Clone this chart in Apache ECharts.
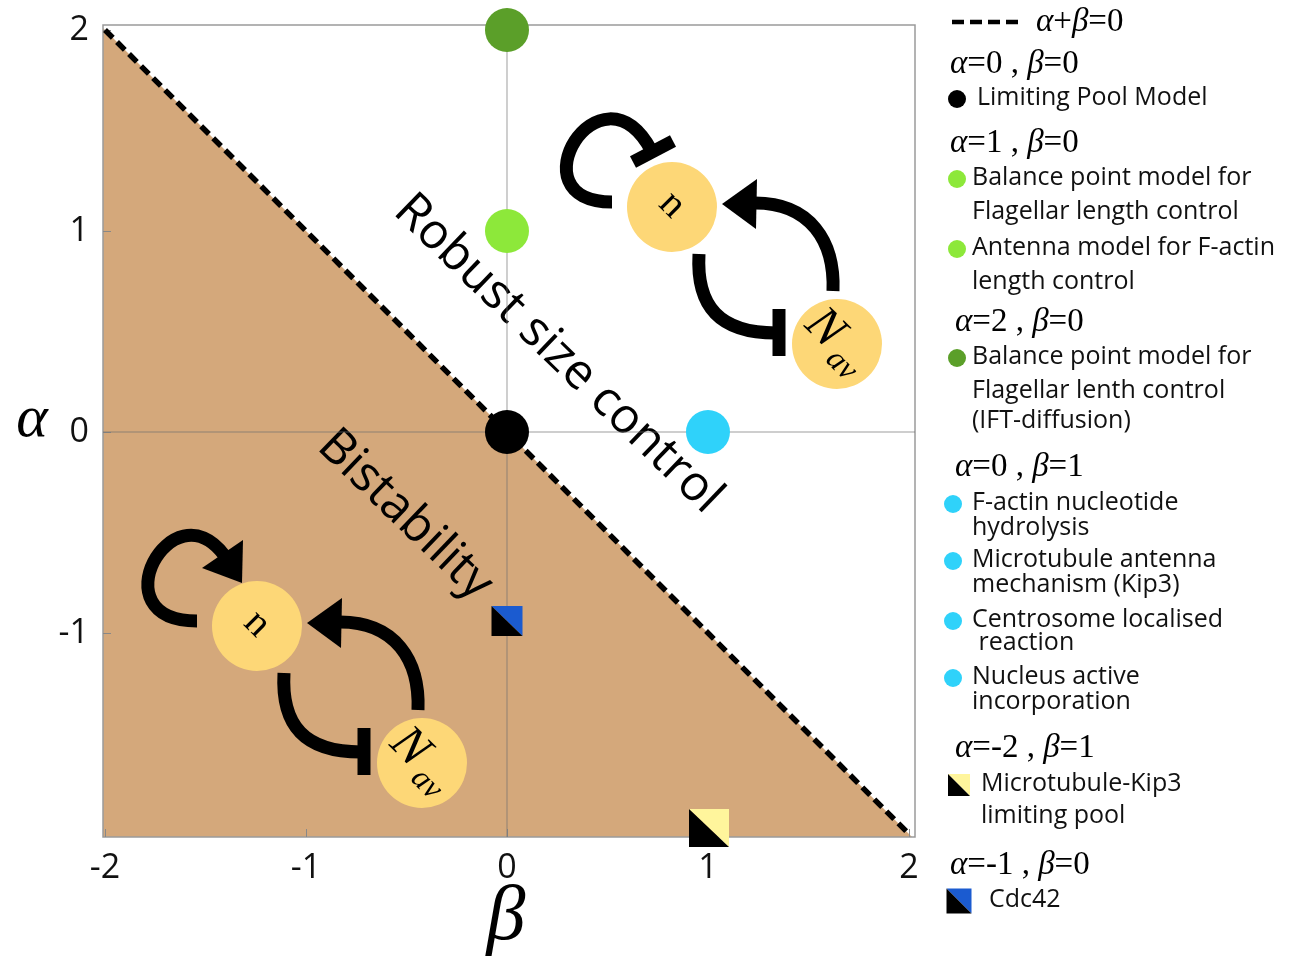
<!DOCTYPE html>
<html>
<head>
<meta charset="utf-8">
<script src="https://cdn.jsdelivr.net/npm/echarts@6/dist/echarts.min.js"></script>
<style>
  html, body { margin: 0; padding: 0; background: #fff; }
  #main { width: 1303px; height: 961px; }
</style>
</head>
<body>
<div id="main"></div>
<script type="text/javascript">
  // model positions in the (beta, alpha) plane
  var circleBeta   = [0, 0, 0, 1];
  var circleAlpha  = [0, 1, 2, 0];
  var circleColors = ['#000000', '#8de83a', '#5b9f29', '#2fd2fa'];

  // split squares (black lower-left half + coloured half)
  var squareBeta   = [1, 0];
  var squareAlpha  = [-2, -1];
  var squareColors = ['#fff59c', '#1b5bd0'];

  // boundary alpha + beta = 0
  var lineBeta  = [-2, 2];
  var lineAlpha = [2, -2];

  // bistable region below the boundary (clipped by the grid)
  var regionBeta  = [-2.2, 2.2, -2.2];
  var regionAlpha = [2.2, -2.2, -2.2];

  var betaTicks  = [-2, -1, 0, 1, 2];
  var alphaTicks = [-1, 0, 1, 2];

  // legend text
  var legendHeads = [['0', '0'], ['1', '0'], ['2', '0'], ['0', '1'], ['-2', '1'], ['-1', '0']];
  var legendEntries = [
    [{ mark: 'c0', lines: ['Limiting Pool Model'] }],
    [{ mark: 'c1', lines: ['Balance point model for', 'Flagellar length control'] },
     { mark: 'c1', lines: ['Antenna model for F-actin', 'length control'] }],
    [{ mark: 'c2', lines: ['Balance point model for', 'Flagellar lenth control', '(IFT-diffusion)'] }],
    [{ mark: 'c3', lines: ['F-actin nucleotide', 'hydrolysis'] },
     { mark: 'c3', lines: ['Microtubule antenna', 'mechanism (Kip3)'] },
     { mark: 'c3', lines: ['Centrosome localised', ' reaction'] },
     { mark: 'c3', lines: ['Nucleus active', 'incorporation'] }],
    [{ mark: 's0', lines: ['Microtubule-Kip3', 'limiting pool'] }],
    [{ mark: 's1', lines: ['Cdc42'] }]
  ];

  // legend layout (pixels)
  var headX = [950, 950, 955, 955, 955, 950];
  var headY = [64, 143, 322, 467, 748, 865];
  var textX = [977, 972, 972, 972, 981, 989];
  var lineY = [[[98]], [[178, 212], [248, 282]], [[357, 391, 421]],
               [[503, 528], [560, 585], [620, 643], [677, 702]], [[784, 816]], [[900]]];

  var SANS = '"Open Sans", "Noto Sans", sans-serif';
  var SERIF = '"Liberation Serif", "DejaVu Serif", serif';
  var TAN = '#d4a87b';
  var BALL = '#fdd777';

  var myChart = echarts.init(document.getElementById('main'));

  function motif(cx, cy, selfActivates) {
    var st = { fill: null, stroke: '#000', lineWidth: 13, lineCap: 'butt' };
    var ch = [
      selfActivates
        ? { type: 'bezierCurve', shape: { x1: -60, y1: -5, cpx1: -160, cpy1: -5, cpx2: -85, cpy2: -140, x2: -33, y2: -71 }, style: st }
        : { type: 'bezierCurve', shape: { x1: -60, y1: -5, cpx1: -160, cpy1: -5, cpx2: -72, cpy2: -150, x2: -21, y2: -57 }, style: st },
      selfActivates
        ? { type: 'polygon', shape: { points: [[-15, -43], [-55, -58], [-14, -86]] }, style: { fill: '#000' } }
        : { type: 'line', shape: { x1: -39, y1: -45, x2: 1, y2: -66 }, style: st },
      // activation N_av -> n
      { type: 'bezierCurve', shape: { x1: 161, y1: 84, cpx1: 163, cpy1: 34, cpx2: 138, cpy2: -4, x2: 83, y2: -4 }, style: st },
      { type: 'polygon', shape: { points: [[50, -3], [85, -28], [84, 22]] }, style: { fill: '#000' } },
      // inhibition n -> N_av
      { type: 'bezierCurve', shape: { x1: 27, y1: 47, cpx1: 24, cpy1: 100, cpx2: 48, cpy2: 126, x2: 104, y2: 126 }, style: st },
      { type: 'line', shape: { x1: 107, y1: 102, x2: 107, y2: 149 }, style: st },
      { type: 'circle', shape: { cx: 0, cy: 0, r: 45 }, style: { fill: BALL } },
      { type: 'circle', shape: { cx: 165, cy: 137, r: 45 }, style: { fill: BALL } },
      { type: 'text', x: 0, y: -2, rotation: -Math.PI / 4,
        style: { text: 'n', font: '40px ' + SERIF, fill: '#000', textAlign: 'center', textVerticalAlign: 'middle' } },
      { type: 'group', x: 165, y: 137, rotation: -Math.PI / 4, children: [
        { type: 'text', x: -20, y: -2, style: { text: 'N', font: 'italic 50px ' + SERIF, fill: '#000', textAlign: 'center', textVerticalAlign: 'middle' } },
        { type: 'text', x: 18, y: 12, style: { text: 'av', font: 'italic 32px ' + SERIF, fill: '#000', textAlign: 'center', textVerticalAlign: 'middle' } }
      ] }
    ];
    return { type: 'group', x: cx, y: cy, children: ch };
  }

  function legendGraphics() {
    var g = [];
    // dashed line sample
    g.push({ type: 'line', shape: { x1: 952, y1: 22, x2: 1022, y2: 22 },
             style: { stroke: '#000', lineWidth: 4.5, lineDash: [12, 6] } });
    g.push({ type: 'text', x: 1036, y: 22, style: {
      text: '{i|α}{n|+}{i|β}{n|=0}', textVerticalAlign: 'middle',
      rich: { i: { font: 'italic 33px ' + SERIF, fill: '#000' }, n: { font: '33px ' + SERIF, fill: '#000' } } } });
    legendHeads.forEach(function (h, gi) {
      g.push({ type: 'text', x: headX[gi], y: headY[gi], style: {
        text: '{i|α}{n|=' + h[0] + ' , }{i|β}{n|=' + h[1] + '}', textVerticalAlign: 'middle',
        rich: { i: { font: 'italic 33px ' + SERIF, fill: '#000' }, n: { font: '33px ' + SERIF, fill: '#000' } } } });
      legendEntries[gi].forEach(function (e, ei) {
        var ys = lineY[gi][ei];
        var kind = e.mark.charAt(0), idx = +e.mark.charAt(1);
        if (kind === 'c') {
          g.push({ type: 'circle', shape: { cx: gi === 3 ? 953 : 957, cy: ys[0] + 1, r: 9 }, style: { fill: circleColors[idx] } });
        } else {
          var w = idx === 0 ? 22 : 25, x0 = 959 - w / 2, y0 = ys[0] + 1 - w / 2;
          g.push({ type: 'polygon', shape: { points: [[x0, y0], [x0 + w, y0], [x0 + w, y0 + w]] }, style: { fill: squareColors[idx] } });
          g.push({ type: 'polygon', shape: { points: [[x0, y0], [x0, y0 + w], [x0 + w, y0 + w]] }, style: { fill: '#000' } });
        }
        e.lines.forEach(function (t, li) {
          g.push({ type: 'text', x: textX[gi], y: ys[li], style: {
            text: t, font: '25px ' + SANS, fill: '#111', textVerticalAlign: 'middle' } });
        });
      });
    });
    return g;
  }

  var graphics = [
    motif(672, 207, false),
    motif(257, 626, true),
    { type: 'text', x: 558, y: 354, rotation: -0.768, style: {
      text: 'Robust size control', font: '49px ' + SANS, fill: '#000', textAlign: 'center', textVerticalAlign: 'middle' } },
    { type: 'text', x: 405, y: 515, rotation: -0.768, style: {
      text: 'Bistability', font: '49px ' + SANS, fill: '#000', textAlign: 'center', textVerticalAlign: 'middle' } },
    { type: 'text', x: 32, y: 420, style: {
      text: 'α', font: 'italic 60px ' + SERIF, fill: '#000', textAlign: 'center', textVerticalAlign: 'middle' } },
    { type: 'text', x: 506, y: 918, style: {
      text: 'β', font: 'italic 78px ' + SERIF, fill: '#000', textAlign: 'center', textVerticalAlign: 'middle' } }
  ].concat(legendGraphics());

  var crossStyle = { color: 'rgba(110,110,110,0.45)', width: 1.5, type: 'solid' };

  var option = {
    animation: false,
    grid: { left: 103, top: 25, width: 812, height: 812, show: true, borderColor: '#9a9a9a', borderWidth: 1.5, backgroundColor: 'transparent' },
    xAxis: {
      type: 'value', min: -2.01, max: 2.03,
      axisLine: { show: false, onZero: false },
      axisTick: { show: true, inside: true, length: 8, customValues: betaTicks, lineStyle: { color: '#888' } },
      axisLabel: { customValues: betaTicks, margin: 14, fontSize: 34, fontFamily: SANS, color: '#111' },
      splitLine: { show: false }
    },
    yAxis: {
      type: 'value', min: -2.015, max: 2.025,
      axisLine: { show: false, onZero: false },
      axisTick: { show: true, inside: true, length: 8, customValues: alphaTicks, lineStyle: { color: '#888' } },
      axisLabel: { customValues: alphaTicks, margin: 14, fontSize: 34, fontFamily: SANS, color: '#111' },
      splitLine: { show: false }
    },
    graphic: graphics,
    series: [
      {
        type: 'custom', z: -1, clip: true, silent: true,
        data: [0],
        renderItem: function (params, api) {
          var pts = regionBeta.map(function (b, i) { return api.coord([b, regionAlpha[i]]); });
          return { type: 'polygon', shape: { points: pts }, style: { fill: TAN } };
        }
      },
      { type: 'line', z: 1, symbol: 'none', silent: true, lineStyle: crossStyle,
        data: [[0, -2.015], [0, 2.025]] },
      { type: 'line', z: 1, symbol: 'none', silent: true, lineStyle: crossStyle,
        data: [[-2.01, 0], [2.03, 0]] },
      {
        type: 'line', z: 3, symbol: 'none', silent: true,
        data: lineBeta.map(function (b, i) { return [b, lineAlpha[i]]; }),
        lineStyle: { color: '#000', width: 5.5, type: [11, 6] }
      },
      {
        type: 'scatter', z: 4, symbolSize: 44,
        data: circleBeta.map(function (b, i) { return { value: [b, circleAlpha[i]], itemStyle: { color: circleColors[i], opacity: 1 } }; })
      },
      {
        type: 'scatter', z: 4, symbol: 'path://M0,0L10,0L10,10Z', symbolKeepAspect: false,
        data: squareBeta.map(function (b, i) {
          return { value: [b, squareAlpha[i]], itemStyle: { color: squareColors[i], opacity: 1 },
                   symbolSize: i === 0 ? [40, 38] : [31, 30], symbolOffset: i === 0 ? [1, -6] : [0, -12] };
        })
      },
      {
        type: 'scatter', z: 5, symbol: 'path://M0,0L0,10L10,10Z', symbolKeepAspect: false,
        data: squareBeta.map(function (b, i) {
          return { value: [b, squareAlpha[i]], itemStyle: { color: '#000', opacity: 1 },
                   symbolSize: i === 0 ? [40, 38] : [31, 30], symbolOffset: i === 0 ? [1, -6] : [0, -12] };
        })
      }
    ]
  };
  myChart.setOption(option);
</script>
</body>
</html>
